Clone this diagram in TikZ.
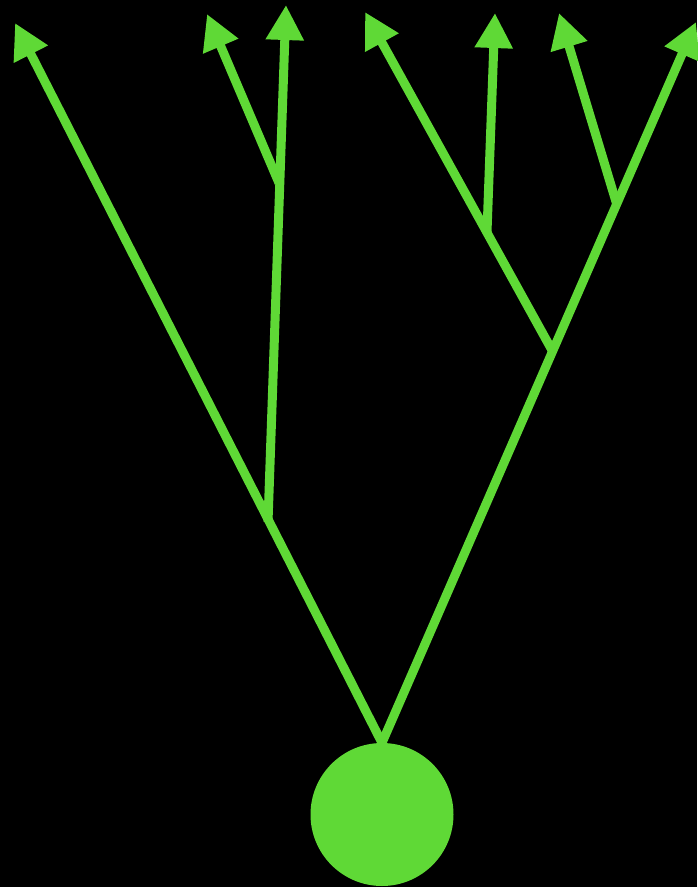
\documentclass[tikz,border=0pt]{standalone}
\usetikzlibrary{arrows.meta}
\definecolor{leaf}{RGB}{95,217,54}
\begin{document}
\begin{tikzpicture}[x=1pt,y=-1pt,>={Triangle[length=35pt,width=36pt]},
	  branch/.style={draw=leaf,line width=9pt,->}]
	  \fill[black] (0,0) rectangle (697,887);
	  \useasboundingbox (0,0) rectangle (697,887);
	  \node[circle,fill=leaf,minimum size=143pt,inner sep=0pt] (root) at (382,814.5) {};
	  \coordinate (j1) at (268,522);
	  \coordinate (j2) at (279,183);
	  \coordinate (j3) at (553,352);
	  \coordinate (j4) at (487,232);
	  \coordinate (j5) at (617,205);
	  \coordinate (t1) at (15,23);
	  \coordinate (t2) at (286,5);
	  \coordinate (t3) at (207,14);
	  \coordinate (t4) at (365,12);
	  \coordinate (t5) at (495,13);
	  \coordinate (t6) at (559,13);
	  \coordinate (t7) at (696,22);
	  \draw[branch] (root.north) -- (t1);
	  \draw[branch] (j1) -- (t2);
	  \draw[branch] (j2) -- (t3);
	  \draw[branch] (root.north) -- (t7);
	  \draw[branch] (j3) -- (t4);
	  \draw[branch] (j4) -- (t5);
	  \draw[branch] (j5) -- (t6);
	\end{tikzpicture}
\end{document}
